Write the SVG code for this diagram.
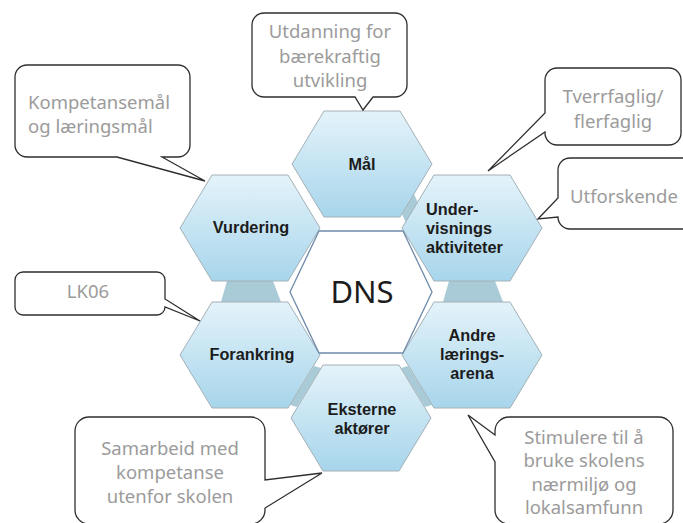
<svg xmlns="http://www.w3.org/2000/svg" width="683" height="523" viewBox="0 0 683 523">
<defs>
<linearGradient id="hexfill" x1="0" y1="0" x2="0" y2="1">
<stop offset="0" stop-color="#e4f3fa"/>
<stop offset="1" stop-color="#a7d5eb"/>
</linearGradient>
<style>
.hex{fill:url(#hexfill);stroke:#a3b0b6;stroke-width:1}
.band{fill:#a9cbd7}
.dns{fill:#ffffff;stroke:#6f8aab;stroke-width:1.3}
.lbl{font-family:"Liberation Sans",Arial,sans-serif;font-weight:bold;font-size:16.3px;fill:#1c1c1c;text-anchor:middle}
.big{font-family:"Noto Sans","DejaVu Sans",sans-serif;font-size:31px;fill:#1c1c1c;text-anchor:middle}
.call{fill:#ffffff;stroke:#2e2e2e;stroke-width:1.3;stroke-linejoin:miter}
.ct{font-family:"Noto Sans","DejaVu Sans",sans-serif;font-size:18.5px;fill:#9b9b9b;text-anchor:middle}
</style>
</defs>
<rect width="683" height="523" fill="#ffffff"/>
<g id="connectors">
<polygon class="band" points="227,281 273,281 281,302 221,302"/>
<polygon class="band" points="449,281 495,281 503,302 443,302"/>
<polygon class="band" points="414,194 402,214 406,223 418,203"/>
<polygon class="band" points="314,366 290,405 297,407 321,368"/>
<polygon class="band" points="408,366 432,405 425,407 401,368"/>
</g>
<g id="mal">
<polygon class="hex" points="292,164 324,111 400,111 432,164 400,217 324,217"/>
<text class="lbl" x="362" y="170">Mål</text>
</g>
<g id="vurdering">
<polygon class="hex" points="180,228 212,175 288,175 320,228 288,281 212,281"/>
<text class="lbl" x="251" y="233">Vurdering</text>
</g>
<g id="undervisning">
<polygon class="hex" points="402,228 434,175 510,175 542,228 510,281 434,281"/>
<text class="lbl" x="426" y="215" style="text-anchor:start">Under-</text>
<text class="lbl" x="426" y="234" style="text-anchor:start">visnings</text>
<text class="lbl" x="426" y="253" style="text-anchor:start">aktiviteter</text>
</g>
<g id="forankring">
<polygon class="hex" points="180,355 212,302 288,302 320,355 288,408 212,408"/>
<text class="lbl" x="252" y="360">Forankring</text>
</g>
<g id="andre">
<polygon class="hex" points="402,355 434,302 510,302 542,355 510,408 434,408"/>
<text class="lbl" x="472" y="341">Andre</text>
<text class="lbl" x="472" y="360">lærings-</text>
<text class="lbl" x="472" y="379">arena</text>
</g>
<g id="eksterne">
<polygon class="hex" points="291,418 323,365 399,365 431,418 399,471 323,471"/>
<text class="lbl" x="362" y="415">Eksterne</text>
<text class="lbl" x="362" y="434">aktører</text>
</g>
<g id="dns">
<polygon class="dns" points="290,292 319,231 403,231 432,292 403,353 319,353"/>
<text class="big" x="362" y="303">DNS</text>
</g>
<g id="callout-utdanning">
<path class="call" d="M264,13 H395 A12,12 0 0 1 407,25 V85 A12,12 0 0 1 395,97 H373 L363,110 L355,97 H264 A12,12 0 0 1 252,85 V25 A12,12 0 0 1 264,13 Z"/>
<text class="ct" x="330" y="38">Utdanning for</text>
<text class="ct" x="330" y="63">bærekraftig</text>
<text class="ct" x="330" y="87">utvikling</text>
</g>
<g id="callout-kompetanse">
<path class="call" d="M27,65 H178 A12,12 0 0 1 190,77 V145 A12,12 0 0 1 178,157 H162 L205,181 L117,157 H27 A12,12 0 0 1 15,145 V77 A12,12 0 0 1 27,65 Z"/>
<text class="ct" x="28" y="109" style="text-anchor:start">Kompetansemål</text>
<text class="ct" x="28" y="133" style="text-anchor:start">og læringsmål</text>
</g>
<g id="callout-tverrfaglig">
<path class="call" d="M557,68 H669 A12,12 0 0 1 681,80 V133 A12,12 0 0 1 669,145 H557 A12,12 0 0 1 545,133 V132 L488,171 L545,113 V80 A12,12 0 0 1 557,68 Z"/>
<text class="ct" x="613" y="103">Tverrfaglig/</text>
<text class="ct" x="613" y="128">flerfaglig</text>
</g>
<g id="callout-utforskende">
<path class="call" d="M570,158 H700 V229 H570 A12,12 0 0 1 558,217 L538,219 L558,198 V170 A12,12 0 0 1 570,158 Z"/>
<text class="ct" x="570" y="203" style="text-anchor:start">Utforskende</text>
</g>
<g id="callout-lk06">
<path class="call" d="M23,272 H157 A8,8 0 0 1 165,280 V299 L200,321 L165,307 A8,8 0 0 1 157,315 H23 A8,8 0 0 1 15,307 V280 A8,8 0 0 1 23,272 Z"/>
<text class="ct" x="88" y="298">LK06</text>
</g>
<g id="callout-samarbeid">
<path class="call" d="M89,417 H251 A14,14 0 0 1 265,431 V480 L322,473 L265,508 V510 A14,14 0 0 1 251,524 H89 A14,14 0 0 1 75,510 V431 A14,14 0 0 1 89,417 Z"/>
<text class="ct" x="170" y="455">Samarbeid med</text>
<text class="ct" x="170" y="479">kompetanse</text>
<text class="ct" x="170" y="503">utenfor skolen</text>
</g>
<g id="callout-stimulere">
<path class="call" d="M509,417 H659 A14,14 0 0 1 673,431 V510 A14,14 0 0 1 659,524 H509 A14,14 0 0 1 495,510 V462 L468,415 L495,435 V431 A14,14 0 0 1 509,417 Z"/>
<text class="ct" x="584" y="444">Stimulere til å</text>
<text class="ct" x="584" y="467">bruke skolens</text>
<text class="ct" x="584" y="491">nærmiljø og</text>
<text class="ct" x="584" y="514">lokalsamfunn</text>
</g>
</svg>
